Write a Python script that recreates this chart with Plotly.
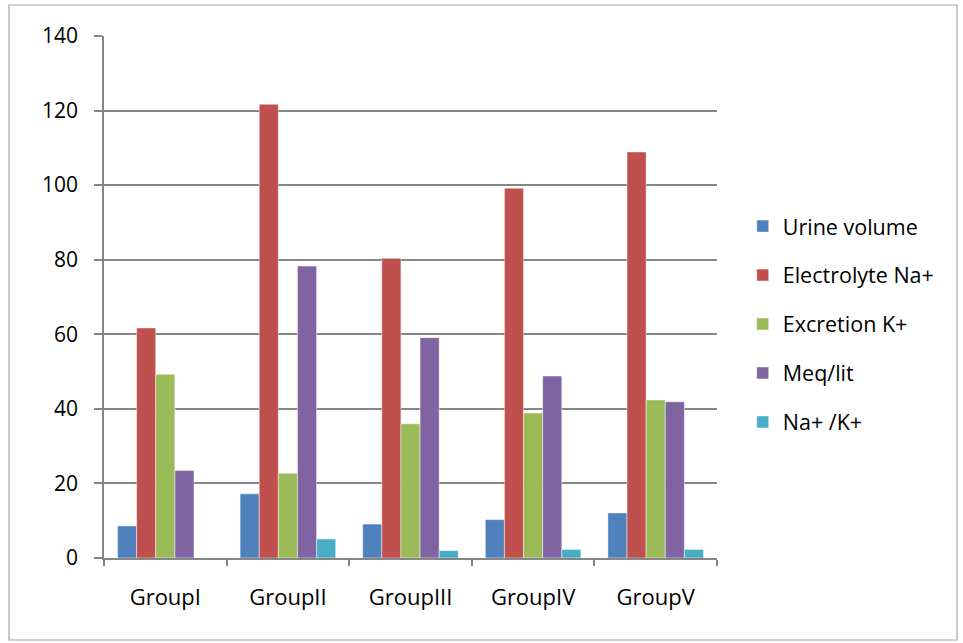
import plotly.graph_objects as go

groups = ["GroupI", "GroupII", "GroupIII", "GroupIV", "GroupV"]
series_names = ["Urine volume", "Electrolyte Na+", "Excretion K+", "Meq/lit", "Na+ /K+"]
urine_volume = [8.6, 17.2, 9.1, 10.3, 12.1]
electrolyte_na = [61.7, 121.7, 80.4, 99.2, 108.9]
excretion_k = [49.3, 22.7, 36.0, 38.9, 42.4]
meq_lit = [23.5, 78.3, 59.1, 48.8, 41.9]
na_k_ratio = [0.0, 5.1, 2.0, 2.3, 2.3]
colors = ["#4F81BD", "#C0504D", "#9BBB59", "#8064A2", "#4BACC6"]
y_ticks = [0, 20, 40, 60, 80, 100, 120, 140]

all_series = [urine_volume, electrolyte_na, excretion_k, meq_lit, na_k_ratio]

fig = go.Figure()
for i, (name, vals, c) in enumerate(zip(series_names, all_series, colors)):
    fig.add_trace(go.Bar(
        x=groups, y=vals, name=name, legendgroup=f"g{i}",
        marker=dict(color=c, line=dict(color="rgba(255,255,255,0.6)", width=0.8)),
    ))

font_family = "'Open Sans', Lato, sans-serif"
fig.update_layout(
    width=963, height=643,
    margin=dict(l=104, r=246, t=36, b=85),
    paper_bgcolor="white", plot_bgcolor="white",
    barmode="group", bargap=0.22, bargroupgap=0,
    font=dict(family=font_family, size=21, color="black"),
    showlegend=True,
    legend=dict(x=1.042, y=0.448, xanchor="left", yanchor="middle",
                font=dict(size=21.5, color="black"), tracegroupgap=18,
                itemwidth=30, bgcolor="rgba(0,0,0,0)"),
    xaxis=dict(showgrid=False, showline=True, linecolor="#868686", linewidth=1.5,
               ticks="outside", tickson="boundaries", ticklen=6, tickcolor="#868686",
               tickwidth=1.5, tickfont=dict(size=22, color="black"), ticklabelstandoff=19),
    yaxis=dict(range=[0, 140], tickvals=y_ticks, showgrid=True, gridcolor="#868686",
               gridwidth=1.5, showline=True, linecolor="#868686", linewidth=1.5,
               ticks="outside", ticklen=8, tickcolor="#868686", tickwidth=1.5,
               zeroline=False, tickfont=dict(size=21, color="black"), ticklabelstandoff=12),
    shapes=[dict(type="rect", xref="paper", yref="paper",
                 x0=(9 - 104) / 613, x1=(957 - 104) / 613,
                 y0=(558 - 640) / 522, y1=(558 - 5) / 522,
                 line=dict(color="#A6A6A6", width=1.2), layer="below")],
)
fig.write_html("out.html")
